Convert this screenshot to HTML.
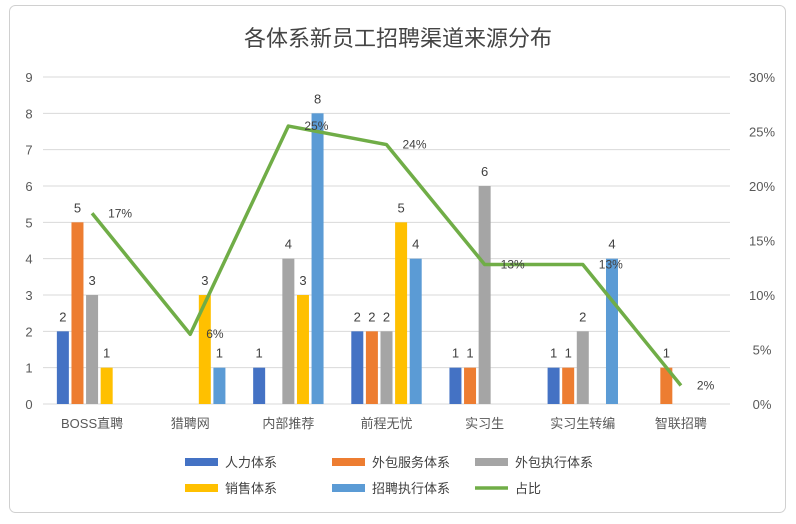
<!DOCTYPE html>
<html><head><meta charset="utf-8"><style>
body{margin:0;background:#fff;}
svg text{font-family:"Liberation Sans","Noto Sans CJK SC",sans-serif;}
</style></head><body>
<svg id="chart" width="796" height="519" xmlns="http://www.w3.org/2000/svg">
<rect x="9.5" y="5.5" width="776" height="507" rx="6" fill="#fff" stroke="#d0d0d0"/>
<text x="398" y="46" text-anchor="middle" font-size="22" fill="#444">各体系新员工招聘渠道来源分布</text>
<g id="grid"></g><g id="bars"></g><g id="line"></g><g id="labels"></g>
<g id="legend"></g>
</svg>
<script>
const categories=["BOSS直聘","猎聘网","内部推荐","前程无忧","实习生","实习生转编","智联招聘"];
const seriesNames=["人力体系","外包服务体系","外包执行体系","销售体系","招聘执行体系"];
const hr=[2,0,1,2,1,1,0];
const outService=[5,0,0,2,1,1,1];
const outExec=[3,0,4,2,6,2,0];
const sales=[1,3,3,5,0,0,0];
const recruitExec=[0,1,8,4,0,4,0];
const ratio=[17.5,6.4,25.5,23.8,12.8,12.8,1.7];
const ratioLabels=["17%","6%","25%","24%","13%","13%","2%"];
const leftTicks=[0,1,2,3,4,5,6,7,8,9];
const rightTicks=["0%","5%","10%","15%","20%","25%","30%"];
const colors=["#4472C4","#ED7D31","#A5A5A5","#FFC000","#5B9BD5"];
const NS="http://www.w3.org/2000/svg";
const X0=43,X1=730,Y0=404,Y1=77;
const band=(X1-X0)/categories.length;
const y=v=>Y0-(v/9)*(Y0-Y1);
const yr=v=>Y0-(v/30)*(Y0-Y1);
const cx=i=>X0+band*(i+0.5);
function mk(t,a,p){const e=document.createElementNS(NS,t);for(const k in a)e.setAttribute(k,a[k]);document.getElementById(p).appendChild(e);return e;}
leftTicks.forEach(t=>{
 const l=mk("line",{x1:X0,x2:X1,y1:y(t),y2:y(t),stroke:"#d9d9d9"},"grid");
 
 
 const tx=mk("text",{x:29,y:y(t)+5,"text-anchor":"middle","font-size":13,fill:"#595959"},"grid");tx.textContent=t;
 
 
});
rightTicks.forEach((t,i)=>{
 const tx=mk("text",{x:762,y:yr(i*5)+5,"text-anchor":"middle","font-size":13,fill:"#595959"},"grid");tx.textContent=t;
 
 
});
categories.forEach((c,i)=>{
 const tx=mk("text",{x:cx(i),y:428,"text-anchor":"middle","font-size":13,fill:"#595959"},"grid");tx.textContent=c;
 
 
});
const all=[hr,outService,outExec,sales,recruitExec];
const step=14.6,bw=12;
all.forEach((s,si)=>{
 s.forEach((v,i)=>{
  if(!v)return;
  const x=cx(i)+(si-2)*step-bw/2;
  const r=mk("rect",{x:x,y:y(v),width:bw,height:Y0-y(v),fill:colors[si]},"bars");
  
  
  const tx=mk("text",{x:x+bw/2,y:y(v)-10,"text-anchor":"middle","font-size":13,fill:"#404040"},"labels");tx.textContent=v;
  
  
 });
});
const pl=mk("polyline",{points:ratio.map((v,i)=>cx(i)+","+yr(v)).join(" "),fill:"none",stroke:"#70AD47","stroke-width":3.5,"stroke-linejoin":"round"},"line");


ratio.forEach((v,i)=>{
 const tx=mk("text",{x:cx(i)+16,y:yr(v)+4,"font-size":12,fill:"#404040"},"labels");tx.textContent=ratioLabels[i];
 
 
});
const leg=[[185,462,0],[332,462,1],[475,462,2],[185,488,3],[332,488,4]];
leg.forEach(([x,yy,si])=>{
 const r=mk("rect",{x:x,y:yy-4,width:33,height:8,fill:colors[si]},"legend");
 
 
 const tx=mk("text",{x:x+40,y:yy+5,"font-size":13,fill:"#404040"},"legend");tx.textContent=seriesNames[si];
 
 
});
const ll=mk("line",{x1:475,x2:508,y1:488,y2:488,stroke:"#70AD47","stroke-width":3.5},"legend");


const lt=mk("text",{x:515,y:493,"font-size":13,fill:"#404040"},"legend");lt.textContent="占比";


</script>
</body></html>
